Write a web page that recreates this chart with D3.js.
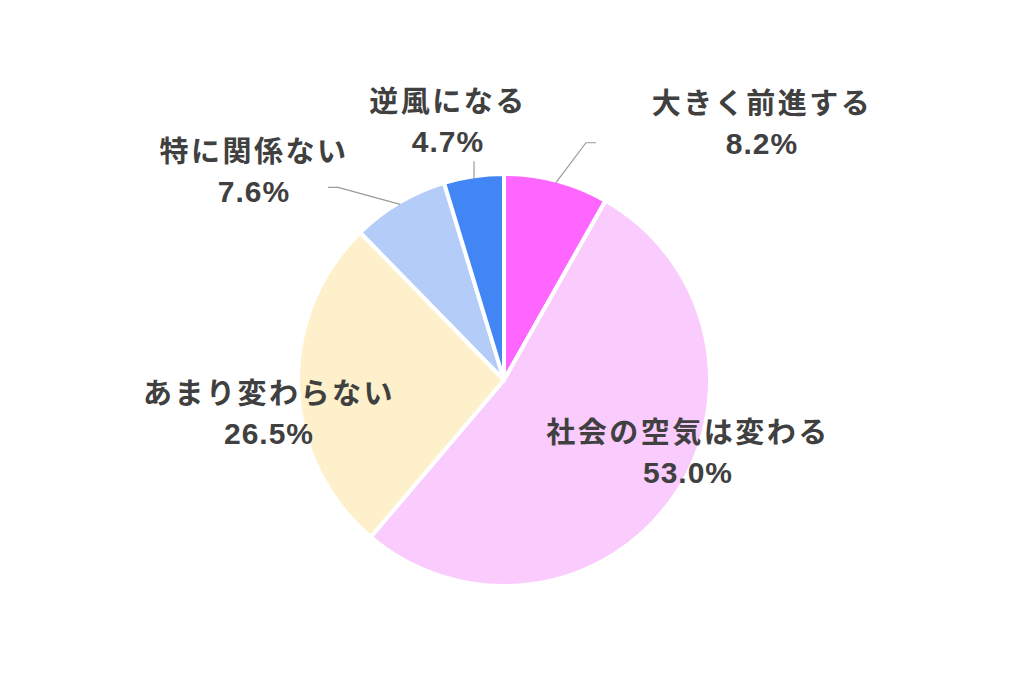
<!DOCTYPE html>
<html>
<head>
<meta charset="utf-8">
<script src="https://cdn.jsdelivr.net/npm/d3@7"></script>
<style>
  html, body { margin: 0; padding: 0; background: #fff; }
  svg { display: block; }
</style>
</head>
<body>
<div id="chart"></div>
<script>
// data, clockwise from 12 o'clock
const categories = ['大きく前進する', '社会の空気は変わる', 'あまり変わらない', '特に関係ない', '逆風になる'];
const values = [8.2, 53.0, 26.5, 7.6, 4.7];
const colors = ['#ff66ff', '#facbfd', '#fdf0cb', '#b4cdf8', '#4285f4'];

// label layout (relative to pie centre) and leader lines
const labelPos = [[258, -266], [184, 63], [-235, 24], [-250, -218], [-56, -268]];
const leaders = [
    { elbow: [30, -40], tail: 10 },
    null,
    null,
    { elbow: [-62, -17], tail: -10 },
    { elbow: [0, -17], tail: 0 }
];

const width = 1024;
const height = 678;
const cx = 504;
const cy = 380;
const radius = 206;

const svg = d3.select('#chart')
    .append('svg')
    .attr('width', width)
    .attr('height', height);

const g = svg.append('g').attr('transform', `translate(${cx},${cy})`);

const pie = d3.pie().sort(null).value(d => d);
const arcs = pie(values);

const arc = d3.arc().innerRadius(0).outerRadius(radius);
const rimArc = d3.arc().innerRadius(radius - 2).outerRadius(radius - 2);

// slices
g.selectAll('path.slice')
    .data(arcs)
    .join('path')
    .attr('class', 'slice')
    .attr('d', arc)
    .attr('fill', (d, i) => colors[i])
    .attr('stroke', '#fff')
    .attr('stroke-width', 4)
    .attr('stroke-linejoin', 'round');

// leader lines
arcs.forEach((d, i) => {
    const l = leaders[i];
    if (!l) return;
    const start = rimArc.centroid(d);
    const elbow = [start[0] + l.elbow[0], start[1] + l.elbow[1]];
    const pts = [start, elbow];
    if (l.tail) pts.push([elbow[0] + l.tail, elbow[1]]);
    g.append('path')
        .attr('d', d3.line()(pts))
        .attr('fill', 'none')
        .attr('stroke', '#9a9a9a')
        .attr('stroke-width', 1.2);
});

// labels
const labels = g.selectAll('g.label')
    .data(arcs)
    .join('g')
    .attr('class', 'label')
    .attr('transform', (d, i) => `translate(${labelPos[i][0]},${labelPos[i][1]})`);

labels.append('text')
    .attr('text-anchor', 'middle')
    .attr('y', 0)
    .attr('font-family', '"Noto Sans CJK JP", "Noto Sans", sans-serif')
    .attr('font-size', 29)
    .attr('font-weight', 'bold')
    .attr('letter-spacing', 2.5)
    .attr('fill', '#404040')
    .text((d, i) => categories[i]);

labels.append('text')
    .attr('text-anchor', 'middle')
    .attr('y', 40)
    .attr('font-family', '"Liberation Sans", Arial, sans-serif')
    .attr('font-size', 30)
    .attr('font-weight', 'bold')
    .attr('letter-spacing', 1)
    .attr('fill', '#404040')
    .text(d => d.value.toFixed(1) + '%');
</script>
</body>
</html>
